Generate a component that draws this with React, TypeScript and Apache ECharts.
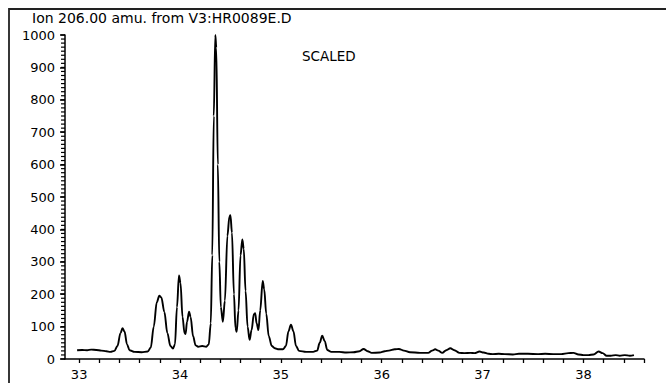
import React, { useEffect, useRef } from "react";
import * as echarts from "echarts";

const TITLE = "Ion 206.00 amu. from V3:HR0089E.D";
const NOTE = "SCALED";

const retentionTime = [
  32.98, 33.03, 33.08, 33.12, 33.17, 33.22, 33.27, 33.31, 33.35, 33.38, 33.41, 33.43, 33.45, 33.475, 33.5,
  33.55, 33.62, 33.68, 33.71, 33.74, 33.77, 33.795, 33.815, 33.845, 33.875, 33.905, 33.93, 33.95, 33.97,
  33.99, 34.005, 34.025, 34.045, 34.055, 34.07, 34.09, 34.105, 34.13, 34.155, 34.18, 34.22, 34.26, 34.285,
  34.305, 34.32, 34.335, 34.35, 34.36, 34.375, 34.39, 34.405, 34.425, 34.445, 34.47, 34.49, 34.5, 34.515,
  34.535, 34.55, 34.562, 34.58, 34.6, 34.618, 34.632, 34.65, 34.67, 34.69, 34.71, 34.732, 34.745, 34.76,
  34.778, 34.795, 34.82, 34.835, 34.855, 34.88, 34.91, 34.94, 34.98, 35.02, 35.05, 35.075, 35.1, 35.125,
  35.15, 35.18, 35.25, 35.32, 35.36, 35.385, 35.41, 35.435, 35.46, 35.5, 35.58, 35.65, 35.72, 35.78, 35.82,
  35.86, 35.9, 35.98, 36.03, 36.07, 36.13, 36.17, 36.22, 36.28, 36.38, 36.46, 36.5, 36.53, 36.56, 36.6,
  36.64, 36.68, 36.72, 36.77, 36.82, 36.88, 36.92, 36.97, 37.01, 37.06, 37.1, 37.16, 37.22, 37.3, 37.36,
  37.45, 37.55, 37.62, 37.7, 37.78, 37.85, 37.9, 37.95, 38.0, 38.05, 38.1, 38.15, 38.19, 38.23, 38.27,
  38.32, 38.36, 38.41, 38.46, 38.5,
];

const abundance = [
  27, 28, 27, 29, 28, 26, 24, 22, 25, 40, 80, 95, 85, 45, 27,
  22, 21, 23, 35, 100, 175, 195, 190, 145, 80, 40, 32, 45, 160,
  258, 235, 130, 80, 77, 115, 146, 130, 70, 42, 38, 40, 38, 45,
  110, 320, 750, 1000, 960, 600, 300, 160, 115, 180, 380, 440, 444, 390,
  200, 95, 84, 150, 320, 369, 340, 210, 100, 59, 90, 138, 141, 110,
  89, 150, 241, 215, 140, 70, 40, 33, 30, 30, 40, 85, 106, 85,
  40, 25, 22, 22, 26, 50, 72, 55, 28, 22, 22, 20, 21, 24, 31,
  24, 19, 20, 24, 26, 30, 31, 26, 21, 19, 19, 26, 30, 26, 19,
  27, 33, 27, 19, 18, 19, 18, 23, 20, 16, 15, 16, 15, 14, 16,
  16, 15, 16, 15, 15, 18, 19, 14, 12, 12, 14, 23, 18, 10, 10,
  12, 10, 12, 10, 12,
];

const xLabelTicks = [33, 34, 35, 36, 37, 38];
const xMinorTicks = [
  33, 33.2, 33.4, 33.6, 33.8, 34, 34.2, 34.4, 34.6, 34.8, 35, 35.2, 35.4, 35.6, 35.8, 36, 36.2, 36.4, 36.6,
  36.8, 37, 37.2, 37.4, 37.6, 37.8, 38, 38.2, 38.4, 38.6,
];
const X_MIN = 32.86;
const X_MAX = 38.6;
const yMajorStep = 100;
const yMinorStep = 12.5;

export default function App() {
  const ref = useRef<HTMLDivElement>(null);
  useEffect(() => {
    if (!ref.current) return;
    const chart = echarts.init(ref.current, null, { renderer: "svg" });
    const pts = retentionTime.map((t, i) => [t, abundance[i]]);
    const yMinor: number[][] = [];
    for (let k = 0; k * yMinorStep <= 1000; k++) yMinor.push([X_MIN, k * yMinorStep]);
    const font = "'DejaVu Sans', Verdana, sans-serif";
    chart.setOption({
      animation: false,
      backgroundColor: "#fff",
      grid: { left: 65, right: 22, top: 35, bottom: 24 },
      xAxis: {
        type: "value",
        min: X_MIN,
        max: X_MAX,
        splitLine: { show: false },
        axisLine: { show: true, onZero: false, lineStyle: { color: "#000", width: 1.5 } },
        axisTick: { show: true, customValues: xMinorTicks, length: 4, lineStyle: { color: "#000", width: 1.3 } },
        axisLabel: {
          customValues: xLabelTicks,
          color: "#000",
          fontFamily: font,
          fontSize: 13,
          margin: 9,
          formatter: (v: number) => String(v),
        },
      },
      yAxis: {
        type: "value",
        min: 0,
        max: 1000,
        interval: yMajorStep,
        splitLine: { show: false },
        axisLine: { show: true, onZero: false, lineStyle: { color: "#000", width: 1.5 } },
        axisTick: { show: true, inside: false, length: 5, lineStyle: { color: "#000", width: 1.5 } },
        axisLabel: {
          color: "#000",
          fontFamily: font,
          fontSize: 13,
          margin: 10,
          formatter: (v: number) => String(v),
        },
      },
      graphic: [
        {
          type: "rect",
          shape: { x: 9, y: 9, width: 720, height: 420 },
          style: { fill: "none", stroke: "#222", lineWidth: 1.8 },
          silent: true,
        },
        {
          type: "text",
          x: 32,
          y: 18,
          style: { text: TITLE, fill: "#000", fontFamily: font, fontSize: 14, verticalAlign: "middle" },
        },
        {
          type: "text",
          x: 302,
          y: 56,
          style: { text: NOTE, fill: "#000", fontFamily: font, fontSize: 13.5, verticalAlign: "middle" },
        },
      ],
      series: [
        {
          type: "custom",
          coordinateSystem: "cartesian2d",
          clip: false,
          silent: true,
          z: 10,
          encode: { x: 0, y: 1 },
          data: yMinor,
          renderItem: (_params: any, api: any) => {
            const p = api.coord([api.value(0), api.value(1)]);
            return {
              type: "rect",
              shape: { x: p[0] - 4, y: p[1] - 0.6, width: 4, height: 1.2 },
              style: { fill: "#000" },
            };
          },
        },
        {
          type: "line",
          data: pts,
          showSymbol: false,
          smooth: 0.35,
          smoothMonotone: "x",
          lineStyle: { color: "#000", width: 1.9 },
        },
      ],
    });
    return () => chart.dispose();
  }, []);
  return <div ref={ref} style={{ position: "absolute", left: 0, top: 0, width: 666, height: 383 }} />;
}
